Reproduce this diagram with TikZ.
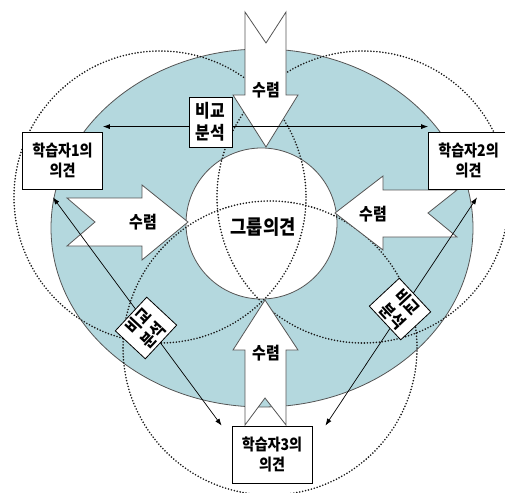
\documentclass[tikz,border=0pt]{standalone}
\usepackage{fontspec}
\newfontfamily\kr[FakeStretch=0.88]{Noto Sans CJK KR}
\usetikzlibrary{arrows.meta}

\definecolor{lagoon}{RGB}{180,216,222}
\definecolor{rim}{RGB}{85,85,85}

\begin{document}
\begin{tikzpicture}[x=1pt, y=-1pt, font=\kr\bfseries,
    opinion/.style={draw=black, fill=white, line width=0.8pt, align=center, inner sep=0pt,
      minimum width=80pt, minimum height=57pt, font=\kr\bfseries\fontsize{16}{20}\selectfont},
    compare/.style={draw=black, fill=white, line width=0.8pt, align=center, inner sep=0pt,
      minimum width=46pt, minimum height=41pt, font=\kr\bfseries\fontsize{17}{20}\selectfont},
    fatarrow/.style={draw=rim, fill=white, line width=0.8pt},
    venn/.style={draw=black!90, line width=1.8pt, line cap=round, dash pattern=on 0pt off 3pt},
    link/.style={line width=0.7pt, {Latex[length=7pt,width=5pt]}-{Latex[length=7pt,width=5pt]}},
    converge/.style={font=\kr\bfseries\fontsize{17}{18}\selectfont}]

    \useasboundingbox (0,0) rectangle (505,492);

    \draw[rim, fill=lagoon, line width=0.8pt] (262,228) ellipse [x radius=211, y radius=179];
    \node[circle, draw=rim, fill=white, line width=0.8pt, minimum size=151pt, inner sep=0pt] (group) at (261.5,223.5) {};

    \foreach \cx/\cy/\r in {160/197/146, 363/197/146, 270/348/147}
      \draw[venn] (\cx,\cy) circle (\r);

    \node[font=\kr\bfseries\fontsize{20}{20}\selectfont] (grouptext) at (263,227) {그룹의견};

    \draw[fatarrow] (245,12) -- (266,43) -- (286,12) -- (286,95) -- (298,95) -- (266,147) -- (233,95) -- (245,95) -- cycle;
    \draw[fatarrow] (245,425) -- (265,398) -- (286,425) -- (286,350) -- (298,350) -- (265,300) -- (233,350) -- (245,350) -- cycle;
    \draw[fatarrow] (67,198) -- (142,198) -- (142,185) -- (188,222) -- (142,260) -- (142,246) -- (67,246) -- (95,222) -- cycle;
    \draw[fatarrow] (457,190) -- (383,190) -- (383,176) -- (335,213) -- (383,250) -- (383,237) -- (457,237) -- (428,213) -- cycle;

    \node[converge] (convtop) at (266,90) {수렴};
    \node[converge] (convbottom) at (266,353) {수렴};
    \node[converge] (convleft) at (143,222) {수렴};
    \node[converge] (convright) at (373,214) {수렴};

    \node[opinion] (learnerA) at (62.5,160.5) {학습자1의\\의견};
    \node[opinion] (learnerB) at (468.5,160.5) {학습자2의\\의견};
    \node[opinion] (learnerC) at (272,454.5) {학습자3의\\의견};

    \draw[link] ([yshift=5pt]learnerA.north east) -- ([yshift=5pt]learnerB.north west);
    \draw[link] ([xshift=-9.5pt,yshift=-8pt]learnerA.south) -- ([xshift=-10pt]learnerC.north west);
    \draw[link] ([xshift=8.5pt,yshift=-8pt]learnerB.south) -- ([xshift=13pt]learnerC.north east);

    \node[compare, minimum width=43pt, minimum height=50pt, font=\kr\bfseries\fontsize{18}{22}\selectfont] (cmpAB) at (210.5,122) {비교\\분석};
    \node[compare, rotate=47] (cmpAC) at (146,328) {비교\\분석};
    \node[compare, rotate=-47] (cmpBC) at (400,309) {비교\\분석};
  \end{tikzpicture}
\end{document}
